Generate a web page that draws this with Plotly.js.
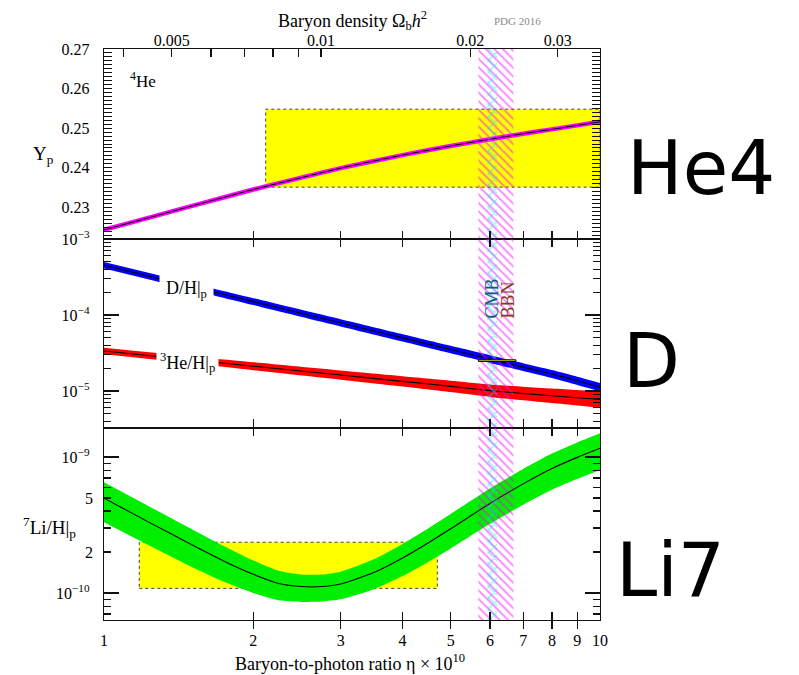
<!DOCTYPE html>
<html><head><meta charset="utf-8">
<script src="https://cdn.plot.ly/plotly-3.0.1.min.js"></script>
<style>html,body{margin:0;padding:0;background:#fff}#chart{width:799px;height:675px}</style>
</head><body><div id="chart"></div>
<script>
// ---------------- data ----------------
const etaHe = [1, 1.25, 1.5, 2, 2.5, 3, 4, 5, 6, 7, 8, 9, 10];
const yHe = [0.2243, 0.2276, 0.2303, 0.2345, 0.2375, 0.2399, 0.2432, 0.2455, 0.2472, 0.2486, 0.2497, 0.2507, 0.2516];

const etaD = [1, 1.5, 2, 3, 4, 5, 6, 7, 8, 9, 10];
const dCenter = [4.51e-4, 2.37e-4, 1.50e-4, 7.89e-5, 5.00e-5, 3.51e-5, 2.63e-5, 2.06e-5, 1.67e-5, 1.36e-5, 1.12e-5];
const dUpper  = [4.98e-4, 2.62e-4, 1.664e-4, 8.79e-5, 5.59e-5, 3.94e-5, 2.96e-5, 2.32e-5, 1.887e-5, 1.54e-5, 1.271e-5];
const dLower  = [4.085e-4, 2.14e-4, 1.353e-4, 7.08e-5, 4.48e-5, 3.13e-5, 2.34e-5, 1.83e-5, 1.478e-5, 1.20e-5, 9.87e-6];

const etaHe3 = [1, 2, 3, 4, 5, 6, 7, 8, 9, 10];
const he3Center = [3.36e-5, 2.12e-5, 1.62e-5, 1.34e-5, 1.15e-5, 1.01e-5, 9.27e-6, 8.65e-6, 8.14e-6, 7.73e-6];
const he3Upper  = [3.72e-5, 2.389e-5, 1.86e-5, 1.566e-5, 1.367e-5, 1.22e-5, 1.138e-5, 1.077e-5, 1.027e-5, 9.89e-6];
const he3Lower  = [3.035e-5, 1.881e-5, 1.411e-5, 1.146e-5, 9.67e-6, 8.36e-6, 7.55e-6, 6.95e-6, 6.45e-6, 6.04e-6];

const etaLi = [1, 1.25, 1.5, 1.75, 2, 2.25, 2.5, 2.75, 3, 3.5, 4, 4.5, 5, 6, 7, 8, 9, 10];
const liCenter = [4.97e-10, 3.22e-10, 2.27e-10, 1.706e-10, 1.371e-10, 1.175e-10, 1.114e-10, 1.114e-10, 1.164e-10, 1.413e-10, 1.807e-10, 2.328e-10, 2.965e-10, 4.55e-10, 6.34e-10, 8.22e-10, 9.93e-10, 1.159e-9];
const liUpper  = [6.52e-10, 4.217e-10, 2.958e-10, 2.198e-10, 1.734e-10, 1.459e-10, 1.368e-10, 1.365e-10, 1.432e-10, 1.766e-10, 2.291e-10, 2.979e-10, 3.811e-10, 5.861e-10, 8.166e-10, 1.059e-9, 1.279e-9, 1.493e-9];
const liLower  = [3.31e-10, 2.178e-10, 1.560e-10, 1.202e-10, 9.98e-11, 8.83e-11, 8.59e-11, 8.65e-11, 8.97e-11, 1.064e-10, 1.330e-10, 1.683e-10, 2.118e-10, 3.221e-10, 4.457e-10, 5.741e-10, 6.902e-10, 8.035e-10];

// observational boxes
const heObsEta = [2.118, 10];
const heObsY = [0.2351, 0.2548];
const dObsEta = [5.685, 6.77];
const dObsY = [2.45e-5, 2.57e-5];
const liObsEta = [1.178, 4.70];
const liObsY = [1.08e-10, 2.36e-10];

// concordance bands (eta x 1e10)
const bbnEta = [5.685, 6.69];
const cmbEta = [5.93, 6.20];

// ticks
const etaTicks = [1, 2, 3, 4, 5, 6, 7, 8, 9, 10];
const etaTickText = ['1', '2', '3', '4', '5', '6', '7', '8', '9', '10'];
const omegaTicks = [0.005, 0.01, 0.02, 0.03];
const omegaTickText = ['0.005', '0.01', '0.02', '0.03'];
const omegaMinor = [0.004, 0.006, 0.007, 0.008, 0.009];
const etaPerOmega = 273.9;
const ypTicks = [0.23, 0.24, 0.25, 0.26, 0.27];
const ypTickText = ['0.23', '0.24', '0.25', '0.26', '0.27'];
const dhTicks = [1e-5, 1e-4, 1e-3];
const dhTickText = ['10<sup>−5</sup>', '10<sup>−4</sup>', '10<sup>−3</sup>'];
const liTicks = [1e-10, 1e-9];
const liTickText = ['10<sup>−10</sup>', '10<sup>−9</sup>'];
const liMidTicks = [2e-10, 5e-10];
const liMidText = ['2', '5'];

// axis ranges
const yRange1 = [0.222, 0.27];
const yRange2 = [-5.487, -3];
const yRange3 = [-10.199, -8.787];

// ---------------- helpers ----------------
const SERIF = 'Liberation Serif, Times New Roman, serif';
const W = 799, H = 675, L = 104, R = 600, T = 49, B = 620;
const xp = px => (px - L) / (R - L);
const yp = py => (B - py) / (B - T);

function box(xs, ys, xa, ya, fill, line) {
  return {x: [xs[0], xs[1], xs[1], xs[0], xs[0]], y: [ys[0], ys[0], ys[1], ys[1], ys[0]],
    xaxis: xa, yaxis: ya, mode: 'lines', fill: 'toself', fillcolor: fill, line: line, hoverinfo: 'skip'};
}
function hatch(etas, ylo, yhi, xa, ya, shape, color, size, sol) {
  return {x: [etas[0], etas[1], etas[1], etas[0], etas[0]], y: [ylo, ylo, yhi, yhi, ylo],
    xaxis: xa, yaxis: ya, mode: 'lines', fill: 'toself', fillcolor: 'rgba(0,0,0,0)',
    line: {width: 0, color: 'rgba(0,0,0,0)'},
    fillpattern: {shape: shape, fgcolor: color, bgcolor: 'rgba(0,0,0,0)', size: size, solidity: sol, fillmode: 'overlay'},
    hoverinfo: 'skip'};
}
function band(xs, lo, hi, xa, ya, color) {
  return [
    {x: xs, y: lo, xaxis: xa, yaxis: ya, mode: 'lines', line: {width: 0, color: color, shape: 'spline', smoothing: 0.6}, hoverinfo: 'skip'},
    {x: xs, y: hi, xaxis: xa, yaxis: ya, mode: 'lines', line: {width: 0, color: color, shape: 'spline', smoothing: 0.6}, fill: 'tonexty', fillcolor: color, hoverinfo: 'skip'}
  ];
}
function line(xs, ys, xa, ya, color, w) {
  return {x: xs, y: ys, xaxis: xa, yaxis: ya, mode: 'lines', line: {color: color, width: w, shape: 'spline', smoothing: 0.6}, hoverinfo: 'skip'};
}
function hatches(xa, ya, lo, hi) {
  return [hatch(bbnEta, lo, hi, xa, ya, '\\', '#ff00ff', 6, 0.3),
          hatch(cmbEta, lo, hi, xa, ya, 'x', '#00e8ff', 8, 0.28)];
}

const dotted = {color: '#444', width: 1, dash: 'dot'};
const traces = [];
// top panel
traces.push(box(heObsEta, heObsY, 'x', 'y', '#ffff00', dotted));
traces.push(line(etaHe, yHe, 'x', 'y', '#ff00ff', 4.5));
traces.push(line(etaHe, yHe, 'x', 'y', '#000', 1));
traces.push(...hatches('x', 'y', yRange1[0], yRange1[1]));
// middle panel
traces.push(...band(etaD, dLower, dUpper, 'x2', 'y2', '#0000ff'));
traces.push(line(etaD, dCenter, 'x2', 'y2', '#000', 1.1));
traces.push(...band(etaHe3, he3Lower, he3Upper, 'x2', 'y2', '#ff0000'));
traces.push(line(etaHe3, he3Center, 'x2', 'y2', '#000', 1.1));
traces.push(...hatches('x2', 'y2', Math.pow(10, yRange2[0]), Math.pow(10, yRange2[1])));
traces.push(box(dObsEta, dObsY, 'x2', 'y2', '#ffff00', {color: '#000', width: 1}));
// bottom panel
traces.push(box(liObsEta, liObsY, 'x3', 'y3', '#ffff00', dotted));
traces.push(...band(etaLi, liLower, liUpper, 'x3', 'y3', '#00ee00'));
traces.push(line(etaLi, liCenter, 'x3', 'y3', '#000', 1.1));
traces.push(...hatches('x3', 'y3', Math.pow(10, yRange3[0]), Math.pow(10, yRange3[1])));
// dummy traces so overlay axes are drawn
traces.push({x: [0.01], y: [null], xaxis: 'x4', yaxis: 'y', mode: 'markers', hoverinfo: 'skip'});
traces.push({x: [1], y: [null], xaxis: 'x3', yaxis: 'y4', mode: 'markers', hoverinfo: 'skip'});

const tickFont = {family: SERIF, size: 16, color: '#000'};
const lineCol = '#111';
const xCommon = {type: 'log', range: [0, 1], tickmode: 'array', tickvals: etaTicks, ticktext: etaTickText,
  ticks: 'inside', ticklen: 8, tickwidth: 1.2, tickcolor: lineCol, showline: true, linecolor: lineCol, linewidth: 1.3,
  showgrid: false, zeroline: false, tickfont: tickFont, fixedrange: true};

function logMinor(a, b) {
  const v = [];
  for (let e = a; e <= b; e++) for (let m = 2; m <= 9; m++) v.push(m * Math.pow(10, e));
  return v;
}

const yCommon = {ticks: 'inside', tickwidth: 1.2, tickcolor: lineCol, showline: true, linecolor: lineCol, linewidth: 1.3,
  mirror: 'allticks', showgrid: false, zeroline: false, tickfont: tickFont, fixedrange: true, ticklabelstandoff: 10, tickmode: 'array'};

const layout = {
  width: W, height: H, paper_bgcolor: '#fff', plot_bgcolor: '#fff', showlegend: false, hovermode: false,
  margin: {l: L, r: W - R, t: T, b: H - B, pad: 0},
  xaxis: Object.assign({}, xCommon, {anchor: 'y', showticklabels: false, mirror: false}),
  xaxis2: Object.assign({}, xCommon, {anchor: 'y2', showticklabels: false, mirror: 'allticks'}),
  xaxis3: Object.assign({}, xCommon, {anchor: 'y3', mirror: 'allticks', ticklabelstandoff: 5}),
  xaxis4: {type: 'log', overlaying: 'x', side: 'top', anchor: 'y',
    range: [Math.log10(1 / etaPerOmega), Math.log10(10 / etaPerOmega)],
    tickmode: 'array', tickvals: omegaTicks, ticktext: omegaTickText,
    minor: {tickmode: 'array', tickvals: omegaMinor, ticks: 'inside', ticklen: 8, tickwidth: 1.2, tickcolor: lineCol, showgrid: false},
    ticks: 'inside', ticklen: 8, tickwidth: 1.2, tickcolor: lineCol, showline: true, linecolor: lineCol, linewidth: 1.3,
    showgrid: false, zeroline: false, tickfont: tickFont, fixedrange: true, ticklabelstandoff: -5},
  yaxis: Object.assign({}, yCommon, {domain: [yp(239), 1], anchor: 'x', range: yRange1,
    tickvals: ypTicks, ticktext: ypTickText, ticklen: 8,
    minor: {tickmode: 'linear', tick0: 0, dtick: 0.001, ticks: 'inside', ticklen: 4, tickwidth: 1, tickcolor: lineCol, showgrid: false}}),
  yaxis2: Object.assign({}, yCommon, {domain: [yp(428), yp(239)], anchor: 'x2', type: 'log', range: yRange2,
    tickvals: dhTicks, ticktext: dhTickText, ticklen: 15,
    minor: {tickmode: 'array', tickvals: logMinor(-6, -4), ticks: 'inside', ticklen: 7, tickwidth: 1.2, tickcolor: lineCol, showgrid: false}}),
  yaxis3: Object.assign({}, yCommon, {domain: [0, yp(428)], anchor: 'x3', type: 'log', range: yRange3,
    tickvals: liTicks, ticktext: liTickText, ticklen: 15,
    minor: {tickmode: 'array', tickvals: logMinor(-11, -9), ticks: 'inside', ticklen: 7, tickwidth: 1.2, tickcolor: lineCol, showgrid: false}}),
  yaxis4: {overlaying: 'y3', anchor: 'x3', side: 'left', type: 'log', range: yRange3, tickmode: 'array',
    tickvals: liMidTicks, ticktext: liMidText, ticks: 'inside', ticklen: 7, tickwidth: 1.2, tickcolor: lineCol,
    showline: false, showgrid: false, zeroline: false, tickfont: tickFont, fixedrange: true, ticklabelstandoff: 10},
  annotations: [
    {text: 'Baryon density Ω<sub>b</sub><i>h</i><sup>2</sup>', x: xp(352), y: yp(21), font: {family: SERIF, size: 18, color: '#000'}},
    {text: 'PDG 2016', x: xp(517), y: yp(21), font: {family: SERIF, size: 11, color: '#8a8a8a'}},
    {text: '<sup>4</sup>He', x: xp(128), y: yp(80), xanchor: 'left', font: {family: SERIF, size: 17, color: '#000'}},
    {text: 'Y<sub>p</sub>', x: xp(56), y: yp(155), xanchor: 'right', font: {family: SERIF, size: 19, color: '#000'}},
    {text: 'D/H|<sub>p</sub>', x: xp(186), y: yp(289), bgcolor: '#fff', borderpad: 6, font: {family: SERIF, size: 18, color: '#000'}},
    {text: '<sup>3</sup>He/H|<sub>p</sub>', x: xp(187), y: yp(362), bgcolor: '#fff', borderpad: 3, font: {family: SERIF, size: 18, color: '#000'}},
    {text: 'CMB', x: xp(491.5), y: yp(299), textangle: -90, font: {family: SERIF, size: 18, color: '#0e5c7c'}},
    {text: 'BBN', x: xp(507.5), y: yp(300), textangle: -90, font: {family: SERIF, size: 18, color: '#7e3f20'}},
    {text: '<sup>7</sup>Li/H|<sub>p</sub>', x: xp(78), y: yp(527), xanchor: 'right', font: {family: SERIF, size: 19, color: '#000'}},
    {text: 'Baryon-to-photon ratio η × 10<sup>10</sup>', x: xp(350), y: yp(662), font: {family: SERIF, size: 18, color: '#000'}},
    {text: 'He4', x: xp(625), y: yp(168), xanchor: 'left', font: {family: 'DejaVu Sans', size: 74, color: '#000'}},
    {text: 'D', x: xp(621), y: yp(361), xanchor: 'left', font: {family: 'DejaVu Sans', size: 74, color: '#000'}},
    {text: 'Li7', x: xp(614), y: yp(570), xanchor: 'left', font: {family: 'DejaVu Sans', size: 74, color: '#000'}}
  ].map(a => Object.assign({xref: 'paper', yref: 'paper', showarrow: false, xanchor: 'center', yanchor: 'middle'}, a))
};

Plotly.newPlot('chart', traces, layout, {staticPlot: true, displayModeBar: false});
</script>
</body></html>
